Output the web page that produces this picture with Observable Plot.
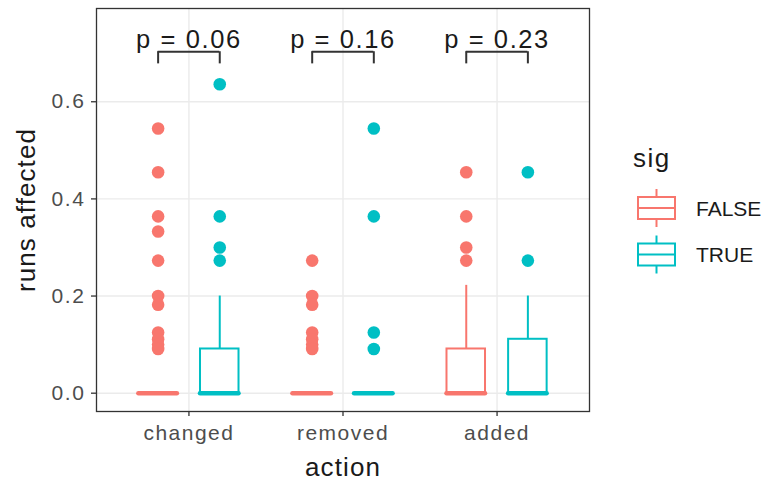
<!DOCTYPE html>
<html>
<head>
<meta charset="utf-8">
<script src="https://cdn.jsdelivr.net/npm/d3@7"></script>
<script src="https://cdn.jsdelivr.net/npm/@observablehq/plot@0.6"></script>
<style>
  html, body { margin: 0; padding: 0; background: #fff; }
  #wrap { position: relative; width: 769px; height: 480px; font-family: "Liberation Sans", Arial, sans-serif; }
  #chart svg { display: block; }
  #legend { position: absolute; left: 0; top: 0; }
  g[aria-label="x-axis tick label"] text { letter-spacing: 1.5px; }
  g[aria-label="y-axis tick label"] text { letter-spacing: 1.6px; }
  g[aria-label="x-axis label"] text, g[aria-label="y-axis label"] text { letter-spacing: 1.1px; }
  g[aria-label="text"] text { letter-spacing: 1.6px; }
</style>
</head>
<body>
<div id="wrap">
  <div id="chart"></div>
  <svg id="legend" width="769" height="480"></svg>
</div>
<script>
// Categories
const actions = ["changed", "removed", "added"];
const sigLevels = ["FALSE", "TRUE"];
const sigColors = ["#F8766D", "#00BFC4"];

// Box summaries, one entry per (action, sig) group
const boxAction = ["changed", "changed", "removed", "removed", "added", "added"];
const boxSig = ["FALSE", "TRUE", "FALSE", "TRUE", "FALSE", "TRUE"];
const lowerWhisker = [0, 0, 0, 0, 0, 0];
const q1 = [0, 0, 0, 0, 0, 0];
const median = [0, 0, 0, 0, 0, 0];
const q3 = [0, 0.091, 0, 0, 0.091, 0.111];
const upperWhisker = [0, 0.2, 0, 0, 0.222, 0.2];

// Outlying points per group
const outChangedFalse = [0.545, 0.455, 0.364, 0.333, 0.273, 0.2, 0.182, 0.125, 0.111, 0.1, 0.091];
const outChangedTrue = [0.636, 0.364, 0.3, 0.273];
const outRemovedFalse = [0.273, 0.2, 0.182, 0.125, 0.111, 0.1, 0.091];
const outRemovedTrue = [0.545, 0.364, 0.125, 0.091];
const outAddedFalse = [0.455, 0.364, 0.3, 0.273];
const outAddedTrue = [0.455, 0.273];

// Wilcoxon p-values, one per action
const pValues = ["0.06", "0.16", "0.23"];
const bracketY = 0.703;
const bracketTip = 0.025;

const yTicks = [0, 0.2, 0.4, 0.6];

// Dodged x position: action index (1-based) shifted by sig group
const dodge = 0.2;
const halfBox = 0.125;
const pos = (action, sig) => actions.indexOf(action) + 1 + (sig === "TRUE" ? dodge : -dodge);
const color = sig => sigColors[sigLevels.indexOf(sig)];

const boxes = boxAction.map((a, i) => ({
  action: a, sig: boxSig[i], x: pos(a, boxSig[i]),
  lo: lowerWhisker[i], q1: q1[i], med: median[i], q3: q3[i], hi: upperWhisker[i]
}));

const outlierGroups = [
  ["changed", "FALSE", outChangedFalse], ["changed", "TRUE", outChangedTrue],
  ["removed", "FALSE", outRemovedFalse], ["removed", "TRUE", outRemovedTrue],
  ["added", "FALSE", outAddedFalse], ["added", "TRUE", outAddedTrue]
];
const outliers = outlierGroups.flatMap(([a, s, vals]) => vals.map(v => ({ x: pos(a, s), y: v, sig: s })));

const brackets = actions.map((a, i) => ({
  x1: pos(a, "FALSE"), x2: pos(a, "TRUE"), xm: i + 1, label: `p = ${pValues[i]}`
}));

const plot = Plot.plot({
  width: 600,
  height: 480,
  marginLeft: 96,
  marginRight: 11,
  marginTop: 8,
  marginBottom: 69,
  style: { fontFamily: "Liberation Sans, Arial, sans-serif", background: "white" },
  x: { domain: [0.4, 3.6] },
  y: { domain: [-0.0377, 0.792] },
  marks: [
    Plot.gridX([1, 2, 3], { stroke: "#EBEBEB", strokeOpacity: 1, strokeWidth: 1.4 }),
    Plot.gridY(yTicks, { stroke: "#EBEBEB", strokeOpacity: 1, strokeWidth: 1.4 }),
    // whiskers
    Plot.ruleX(boxes, { x: "x", y1: "q3", y2: "hi", stroke: d => color(d.sig), strokeWidth: 2 }),
    Plot.ruleX(boxes, { x: "x", y1: "lo", y2: "q1", stroke: d => color(d.sig), strokeWidth: 2 }),
    // boxes
    Plot.rect(boxes, {
      x1: d => d.x - halfBox, x2: d => d.x + halfBox, y1: "q1", y2: "q3",
      fill: "white", stroke: d => color(d.sig), strokeWidth: 2
    }),
    // medians
    Plot.ruleY(boxes, {
      y: "med", x1: d => d.x - halfBox, x2: d => d.x + halfBox,
      stroke: d => color(d.sig), strokeWidth: 4.5, strokeLinecap: "round"
    }),
    // outliers
    Plot.dot(outliers, { x: "x", y: "y", r: 6.3, fill: d => color(d.sig), stroke: "none" }),
    // significance brackets
    Plot.ruleY(brackets, { y: bracketY, x1: "x1", x2: "x2", stroke: "#333333", strokeWidth: 2 }),
    Plot.ruleX(brackets, { x: "x1", y1: bracketY - bracketTip, y2: bracketY, stroke: "#333333", strokeWidth: 2 }),
    Plot.ruleX(brackets, { x: "x2", y1: bracketY - bracketTip, y2: bracketY, stroke: "#333333", strokeWidth: 2 }),
    Plot.text(brackets, {
      x: "xm", y: 0.711, text: "label", fontSize: 25.5, fill: "#1A1A1A",
      textAnchor: "middle", lineAnchor: "bottom"
    }),
    Plot.frame({ stroke: "#333333", strokeWidth: 1.3 }),
    Plot.axisX({
      ticks: [1, 2, 3], tickFormat: i => actions[i - 1], tickSize: 5, tickPadding: 9,
      fontSize: 21, color: "#4D4D4D",
      label: "action", labelAnchor: "center", labelArrow: "none", labelOffset: 64
    }),
    Plot.axisY({
      ticks: yTicks, tickFormat: d3.format(".1f"), tickSize: 5, tickPadding: 6,
      fontSize: 21, color: "#4D4D4D",
      label: "runs affected", labelAnchor: "center", labelArrow: "none", labelOffset: 80
    })
  ]
});

document.getElementById("chart").appendChild(plot);

// Axis ticks a bit darker than labels; titles in near-black and larger
d3.select(plot).selectAll('g[aria-label="x-axis tick"] path, g[aria-label="y-axis tick"] path').attr("stroke", "#333333").attr("stroke-width", 1.3);
d3.select(plot).selectAll('g[aria-label="x-axis label"], g[aria-label="y-axis label"]')
  .attr("fill", "#1A1A1A").attr("font-size", 26);
d3.select(plot).selectAll('g[aria-label="x-axis label"] text, g[aria-label="y-axis label"] text')
  .attr("fill", "#1A1A1A").attr("font-size", 26);

// Legend: boxplot key glyphs for sig
const lg = d3.select("#legend");
lg.append("text").attr("x", 633).attr("y", 167).attr("font-size", 26).attr("fill", "#1A1A1A")
  .style("letter-spacing", "1.5px").text("sig");
sigLevels.forEach((s, i) => {
  const cy = 208 + i * 46.5;
  const g = lg.append("g").attr("stroke", sigColors[i]).attr("stroke-width", 2).attr("fill", "white");
  g.append("line").attr("x1", 656.5).attr("x2", 656.5).attr("y1", cy - 19).attr("y2", cy + 19);
  g.append("rect").attr("x", 638).attr("y", cy - 11).attr("width", 37).attr("height", 22);
  g.append("line").attr("x1", 638).attr("x2", 675).attr("y1", cy).attr("y2", cy);
  lg.append("text").attr("x", 696).attr("y", cy).attr("dy", "0.36em").attr("font-size", 21)
    .attr("fill", "#1A1A1A").text(s);
});
</script>
</body>
</html>
